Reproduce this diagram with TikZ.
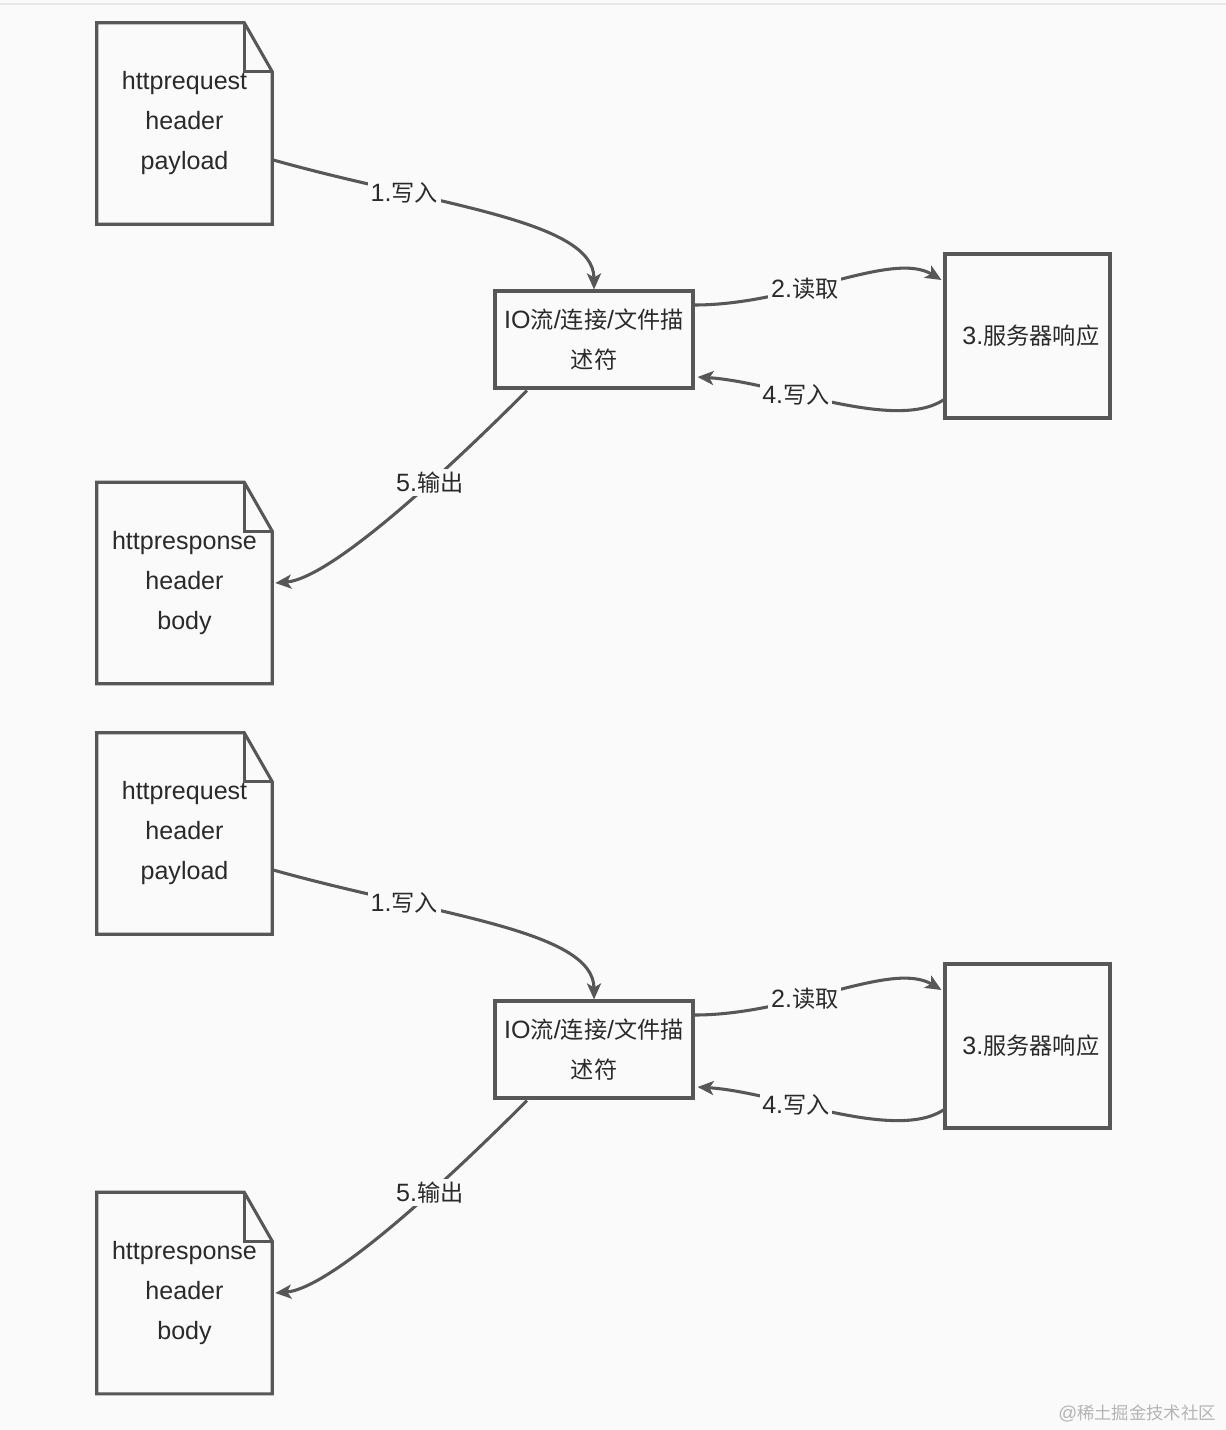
\documentclass[tikz,border=0pt]{standalone}
\usepackage{fontspec}
\setmainfont{Liberation Sans}[Scale=1.08]
\newfontfamily\cjk{Noto Sans CJK SC}
\usetikzlibrary{arrows.meta,calc}
\definecolor{bg}{HTML}{FAFAFA}
\definecolor{ln}{HTML}{575757}
\definecolor{tx}{HTML}{2A2A2A}
\definecolor{wmc}{HTML}{B4B4B4}
\tikzset{
  txt/.style={text=tx, font=\fontsize{17.4}{30}\selectfont, align=center},
  docnode/.style={txt, minimum width=131.25pt, minimum height=150.75pt, inner sep=0pt},
  docline/.style={draw=ln, line width=2.3pt},
  boxnode/.style={txt, draw=ln, line width=2.3pt, inner sep=0pt},
  conn/.style={draw=ln, line width=2.3pt, -{Stealth[length=12pt,width=10.5pt,inset=3pt]}},
  lbl/.style={txt, fill=bg, inner sep=2pt}
}
\newcommand\docoutline[1]{%
  \draw[docline] (#1.south west) -- (#1.north west) -- ($(#1.north east)+(-28,0)$) -- ($(#1.north east)+(0,49)$) -- (#1.south east) -- cycle;
  \draw[docline] ($(#1.north east)+(-28,0)$) -- ++(0,49) -- ($(#1.north east)+(0,49)$);}
\begin{document}
\begin{tikzpicture}[x=0.75pt,y=-0.75pt]
\fill[bg] (0,0) rectangle (1226,1430);
\useasboundingbox (0,0) rectangle (1226,1430);
\draw[color=black!9, line width=0.8pt] (0,4) -- (1226,4);
\foreach \dy/\s in {0/a,710/b}{
  \node[docnode] (req\s) at (184.5,{123.5+\dy}) {\raisebox{-2pt}{\parbox{131pt}{\centering httprequest\\header\\payload}}};
  \docoutline{req\s}
  \node[docnode] (resp\s) at (184.5,{583+\dy}) {\raisebox{-2pt}{\parbox{131pt}{\centering httpresponse\\header\\body}}};
  \docoutline{resp\s}
  \node[boxnode, minimum width=148.5pt, minimum height=72.75pt] (io\s) at (594,{339.5+\dy}) {IO{\cjk 流}/{\cjk 连接}/{\cjk 文件描}\\{\cjk 述符}};
  \node[boxnode, minimum width=123.75pt, minimum height=123pt] (srv\s) at (1027.5,{336+\dy}) {\hspace*{5pt}3.{\cjk 服务器响应}};
  \draw[conn] ($(req\s.east)+(1,36.5)$) .. controls +(160,45) and +(0,-70) .. (io\s.north)
     node[lbl, pos=0.28] {1.{\cjk 写入}};
  \draw[conn] ($(io\s.east)+(0,-34.5)$) .. controls +(100,0) and +(-50,-30) .. ($(srv\s.west)+(-2,-56)$)
     node[lbl, pos=0.38] {2.{\cjk 读取}};
  \draw[conn] ($(srv\s.west)+(0,64)$) .. controls +(-50,32) and +(80,5) .. ($(io\s.east)+(3,37.5)$)
     node[lbl, pos=0.63] {4.{\cjk 写入}};
  \draw[conn] ($(io\s.south)+(-67,1)$) .. controls +(-60,60) and +(60,-5) .. ($(resp\s.east)+(3,0)$)
     node[lbl, pos=0.4] {5.{\cjk 输出}};
}
\node[text=wmc, font=\fontsize{13}{15}\selectfont, anchor=east] (wm) at (1221,1413) {@{\cjk 稀土掘金技术社区}};
\end{tikzpicture}
\end{document}
